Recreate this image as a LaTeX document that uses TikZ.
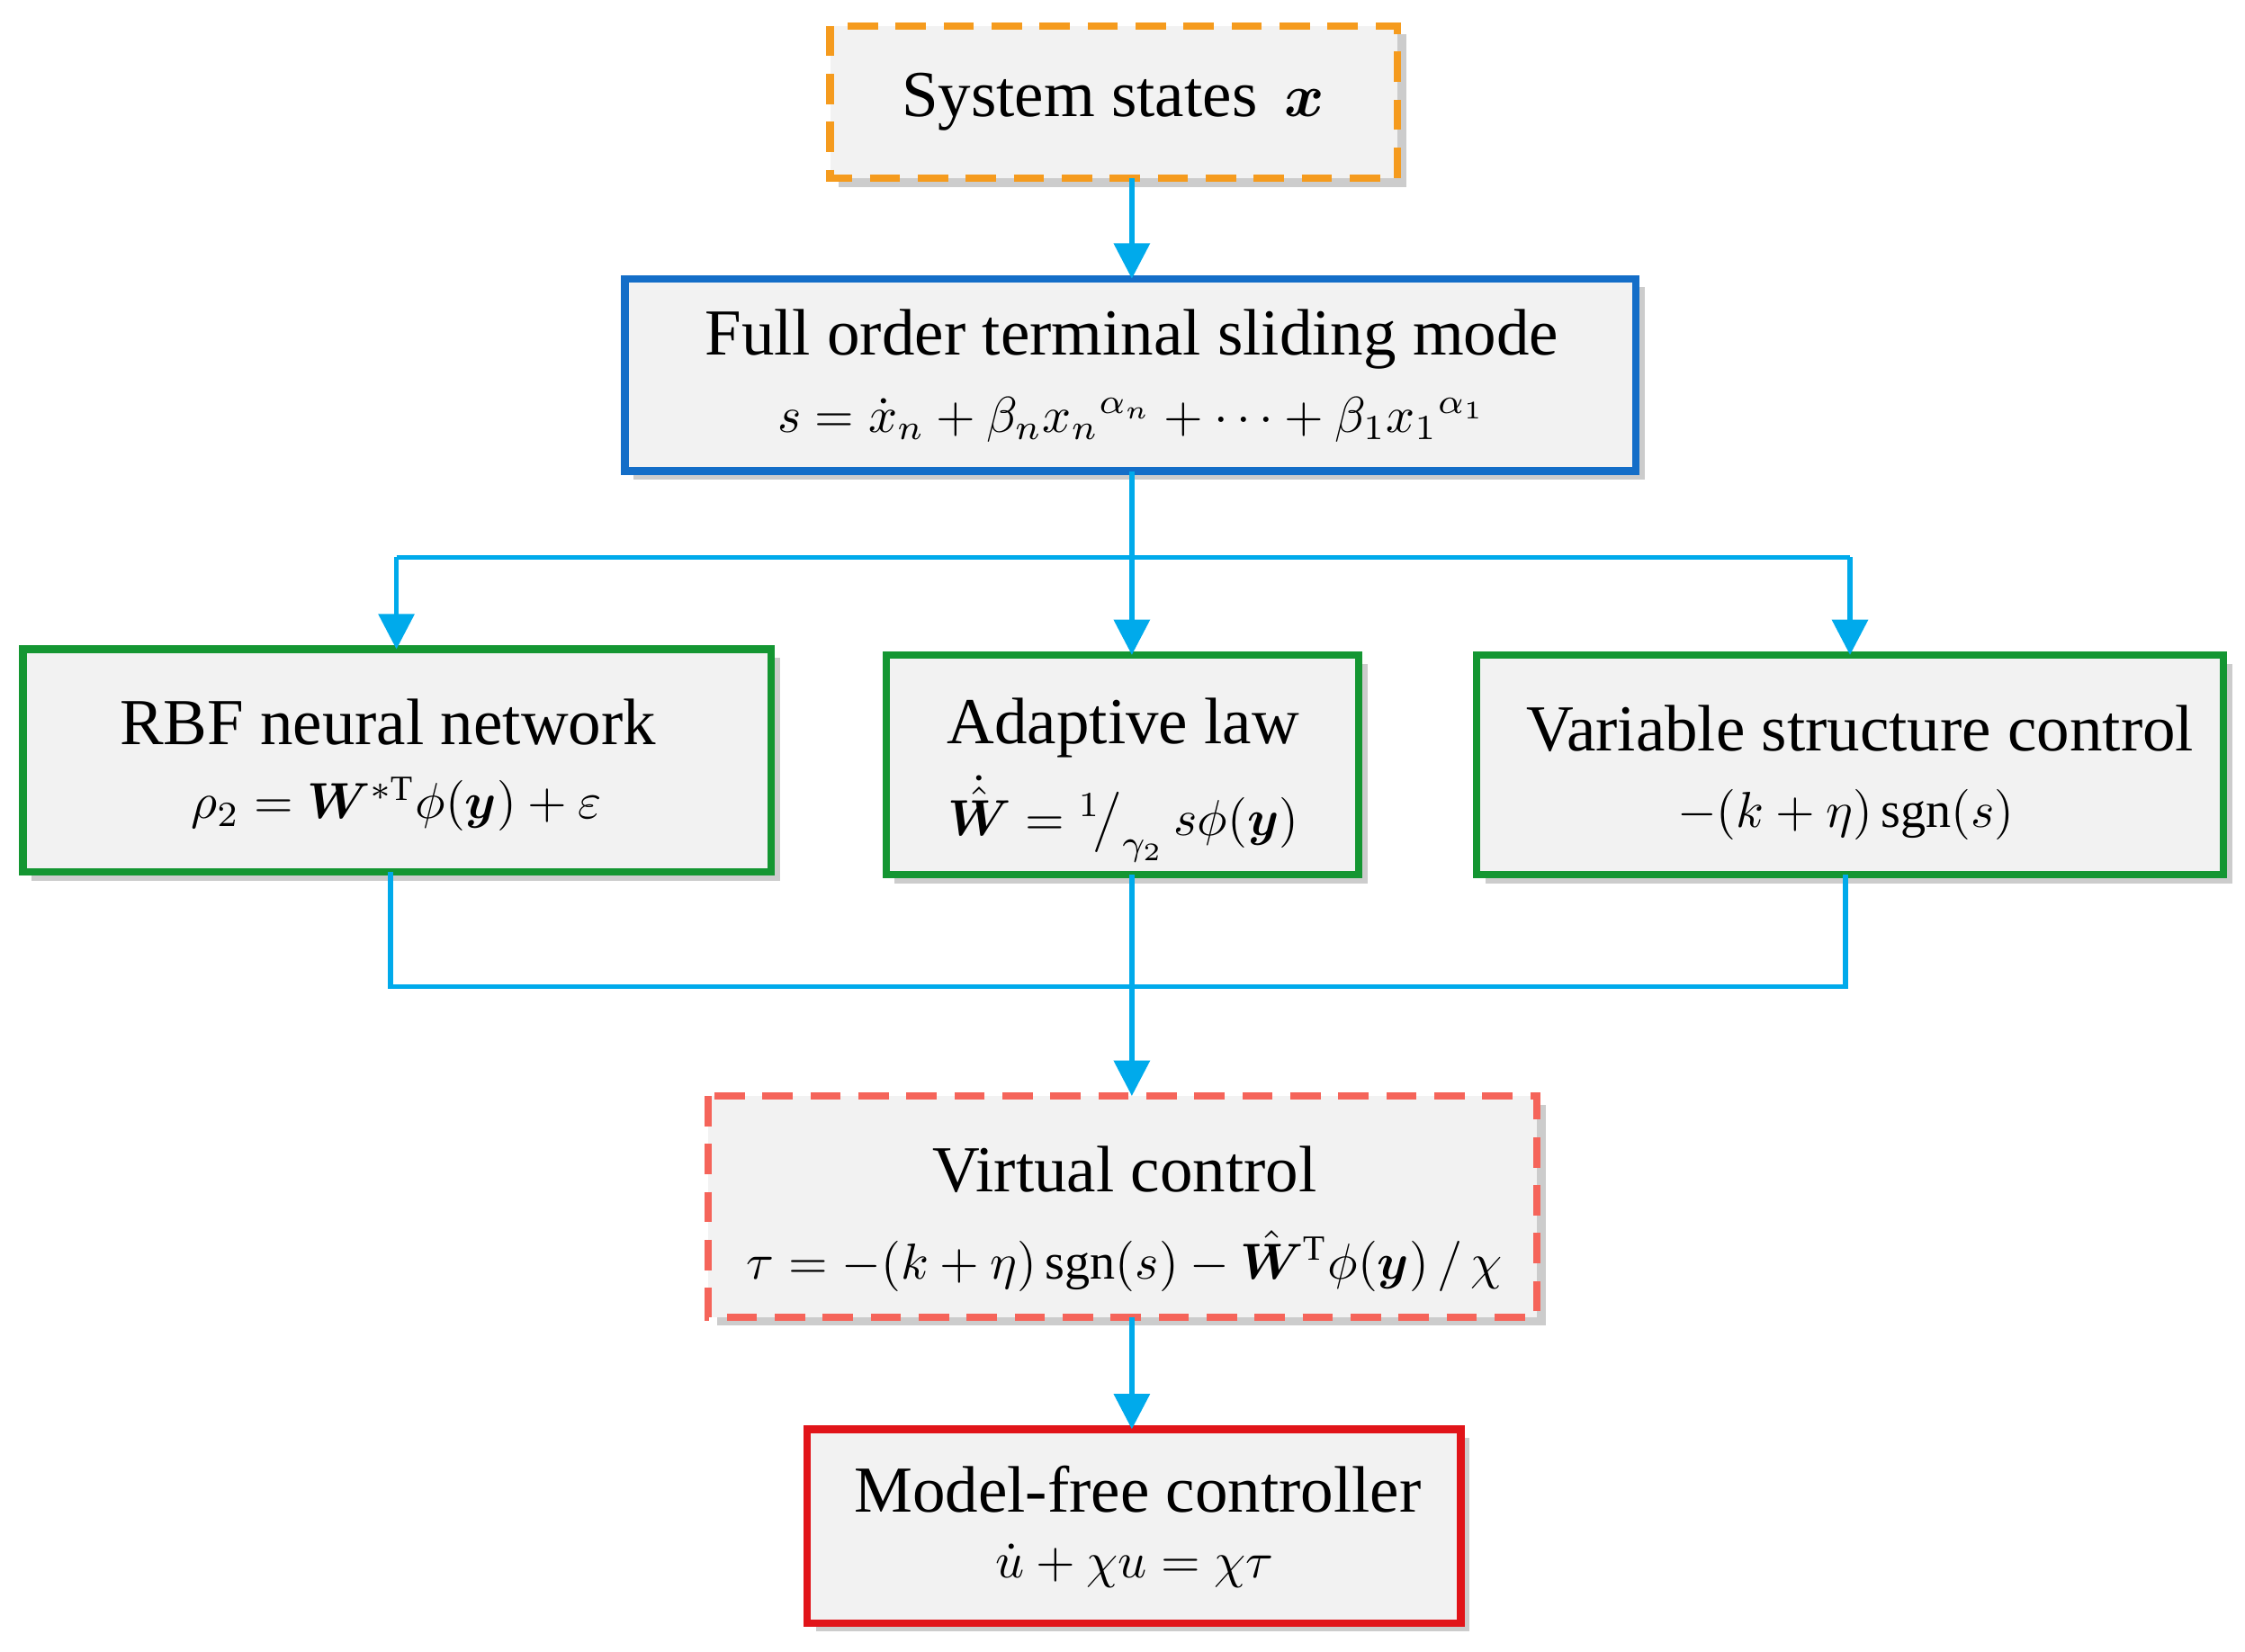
\documentclass[tikz,border=0pt]{standalone}
\usepackage{amsmath,bm}
\usepackage{fontspec}
\setmainfont{Liberation Serif}
\usetikzlibrary{arrows.meta}
\definecolor{lb}{RGB}{0,170,235}
\definecolor{bxfill}{RGB}{242,242,242}
\definecolor{orng}{RGB}{245,155,30}
\definecolor{blu}{RGB}{20,110,200}
\definecolor{grn}{RGB}{20,150,50}
\definecolor{salm}{RGB}{245,100,90}
\definecolor{rd}{RGB}{225,20,25}
\tikzset{
 bx/.style={fill=bxfill,line width=1.5pt},
 conn/.style={draw=lb,line width=1pt},
 arr/.style={conn,-{Triangle[length=7pt,width=7pt]}},
 ttl/.style={font=\fontsize{13}{15}\selectfont},
 frm/.style={font=\fontsize{10}{12}\selectfont},
 dsh/.style={dash pattern=on 6pt off 3.5pt},
}
\newcommand{\mybox}[6]{% name, x1,y1,x2,y2, style
 \fill[gray!40] (#2+6,#3+6) rectangle (#4+6,#5+6);
 \draw[bx,#6] (#2,#3) rectangle (#4,#5);
}
\begin{document}
\begin{tikzpicture}[x=0.01cm,y=-0.01cm]
\useasboundingbox (0,0) rectangle (1563,1150);
\mybox{sys}{578}{18}{973}{124}{draw=orng,dsh}
\node[ttl] (sysT) at (775,71) {System states \,$\bm x$};
\mybox{full}{435}{194}{1139}{328}{draw=blu}
\node[ttl] (fullT) at (788,236) {Full order terminal sliding mode};
\node[frm] (fullF) at (788,292) {$s=\dot x_n+\beta_n {x_n}^{\alpha_n}+\cdots+\beta_1 {x_1}^{\alpha_1}$};
\mybox{rbf}{16}{452}{537}{607}{draw=grn}
\node[ttl] (rbfT) at (270,503) {RBF neural network};
\node[frm] (rbfF) at (276,560) {$\rho_2=\bm W^{*\mathrm T}\phi(\bm y)+\varepsilon$};
\mybox{ad}{617}{456}{946}{609}{draw=grn}
\node[ttl] (adT) at (782,507) {Adaptive law};
\node[frm] (adF) at (782,570) {$\dot{\hat{\bm W}}={}^{1}\!\big/_{\gamma_2}\,s\phi(\bm y)$};
\mybox{vs}{1028}{456}{1548}{609}{draw=grn}
\node[ttl] (vsT) at (1295,507) {Variable structure control};
\node[frm] (vsF) at (1285,567) {$-(k+\eta)\,\mathrm{sgn}(s)$};
\mybox{vc}{493}{763}{1070}{917}{draw=salm,dsh}
\node[ttl] (vcT) at (783,814) {Virtual control};
\node[frm] (vcF) at (783,878) {$\tau=-(k+\eta)\,\mathrm{sgn}(s)-\hat{\bm W}^{\mathrm T}\phi(\bm y)\,/\,\chi$};
\mybox{mf}{562}{995}{1017}{1130}{draw=rd}
\node[ttl] (mfT) at (792,1037) {Model-free controller};
\node[frm] (mfF) at (790,1090) {$\dot u+\chi u=\chi\tau$};
% connectors
\coordinate (sysB) at (788,124);
\coordinate (fullTop) at (788,194);
\coordinate (fullB) at (788,328);
\coordinate (j1) at (788,388);
\coordinate (jl) at (276,388);
\coordinate (jr) at (1288,388);
\coordinate (rbfTop) at (276,452);
\coordinate (adTop) at (788,456);
\coordinate (vsTop) at (1288,456);
\coordinate (rbfB) at (272,607);
\coordinate (adB) at (788,609);
\coordinate (vsB) at (1285,609);
\coordinate (bl) at (272,687);
\coordinate (br) at (1285,687);
\coordinate (vcTop) at (788,763);
\coordinate (vcB) at (788,917);
\coordinate (mfTop) at (788,995);
\draw[arr] (sysB) -- (fullTop);
\draw[conn] (fullB) -- (j1);
\draw[conn] (jl) -- (jr);
\draw[arr] (jl) -- (rbfTop);
\draw[arr] (j1) -- (adTop);
\draw[arr] (jr) -- (vsTop);
\draw[conn] (rbfB) -- (bl) -- (br) -- (vsB);
\draw[arr] (adB) -- (vcTop);
\draw[arr] (vcB) -- (mfTop);
\end{tikzpicture}
\end{document}
